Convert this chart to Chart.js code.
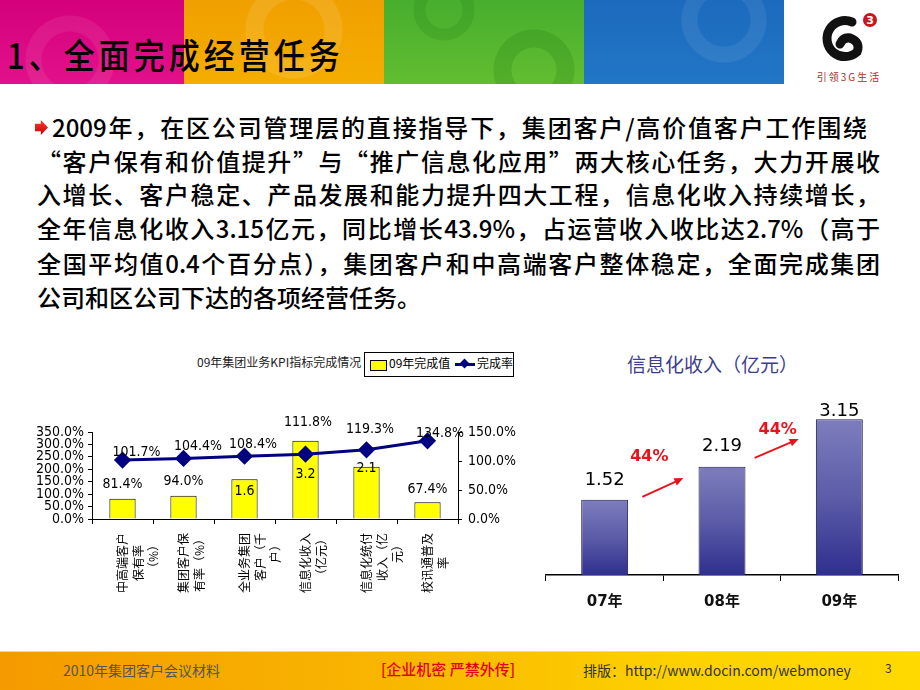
<!DOCTYPE html>
<html><head><meta charset="utf-8">
<script src="https://cdn.jsdelivr.net/npm/chart.js@4.4.1/dist/chart.umd.min.js"></script>
<style>
body{margin:0;background:#fff;}
#slide{position:relative;width:920px;height:690px;overflow:hidden;background:#fff;font-family:"Noto Sans CJK SC",sans-serif;}
.abs{position:absolute;}
.blk{position:absolute;top:0;height:84px;}
.line{position:absolute;font-size:24px;line-height:30px;height:30px;white-space:nowrap;color:#000;font-weight:500;}
.just{text-align:justify;text-align-last:justify;}
</style></head><body>
<div id="slide">
  <!-- header banner -->
  <div class="blk" style="left:0;width:184px;background:radial-gradient(circle at 70px 60px, transparent 28px, rgba(255,255,255,0.07) 29px, rgba(255,255,255,0.07) 44px, transparent 45px),linear-gradient(#d4007c,#e2118a);"></div>
  <div class="blk" style="left:184px;width:200px;background:radial-gradient(circle at 110px 30px, transparent 30px, rgba(255,255,255,0.10) 31px, rgba(255,255,255,0.10) 48px, transparent 49px),linear-gradient(#f0a000,#f5ad00);"></div>
  <div class="blk" style="left:384px;width:200px;background:radial-gradient(circle at 150px 70px, transparent 22px, rgba(0,90,0,0.15) 23px, rgba(0,90,0,0.15) 40px, transparent 41px),radial-gradient(circle at 60px 10px, transparent 18px, rgba(0,90,0,0.12) 19px, rgba(0,90,0,0.12) 30px, transparent 31px),linear-gradient(#47ae2e,#62bd30);"></div>
  <div class="blk" style="left:584px;width:200px;background:radial-gradient(circle at 140px 20px, transparent 26px, rgba(255,255,255,0.07) 27px, rgba(255,255,255,0.07) 42px, transparent 43px),linear-gradient(#1c6abd,#2276c6);"></div>
  <div class="abs" style="left:7px;top:36px;font-size:31px;line-height:36px;letter-spacing:4px;color:#000;white-space:nowrap;transform:scaleY(1.12);transform-origin:left center;font-weight:500;">1、全面完成经营任务</div>
  <svg class="abs" style="left:800px;top:0;" width="120" height="95" viewBox="0 0 120 95">
    <path d="M 52 22 A 18 18 0 1 0 57 52 Q 61 42 50 38 Q 43 37 40 44" stroke="#111" stroke-width="9" fill="none" stroke-linecap="round"/>
    <circle cx="70" cy="20" r="7" fill="#c8161d"/>
    <text x="70" y="24" font-size="11" font-weight="bold" fill="#fff" text-anchor="middle" font-family="DejaVu Sans">3</text>
    <text x="49" y="81" font-size="10" fill="#a8322d" text-anchor="middle" font-family="Noto Sans CJK SC" letter-spacing="2">引领3G生活</text>
  </svg>

  <!-- body text -->
  <div class="abs" style="left:35px;top:120px;width:13px;height:15px;background:linear-gradient(#ff3b2f,#c90000);clip-path:polygon(0 25%,45% 25%,45% 0,100% 50%,45% 100%,45% 75%,0 75%);"></div>
  <div class="line just" style="left:52px;top:112px;width:815px;">2009年，在区公司管理层的直接指导下，集团客户/高价值客户工作围绕</div>
  <div class="line just" style="left:37px;top:146px;width:843px;">“客户保有和价值提升”与“推广信息化应用”两大核心任务，大力开展收</div>
  <div class="line just" style="left:37px;top:179px;width:843px;">入增长、客户稳定、产品发展和能力提升四大工程，信息化收入持续增长，</div>
  <div class="line just" style="left:37px;top:213px;width:843px;">全年信息化收入3.15亿元，同比增长43.9%，占运营收入收比达2.7%（高于</div>
  <div class="line just" style="left:37px;top:248px;width:843px;">全国平均值0.4个百分点），集团客户和中高端客户整体稳定，全面完成集团</div>
  <div class="line" style="left:37px;top:282px;">公司和区公司下达的各项经营任务。</div>

  <!-- left chart title & legend -->
  <div class="abs" style="left:197px;top:354px;font-size:12px;line-height:16px;color:#222;white-space:nowrap;">09年集团业务KPI指标完成情况</div>
  <div class="abs" style="left:364px;top:352px;width:148px;height:23px;border:1px solid #000;background:#fff;"></div>
  <div class="abs" style="left:370px;top:360px;width:15px;height:9px;border:1px solid #000;background:#ffff00;"></div>
  <div class="abs" style="left:389px;top:355px;font-size:12px;line-height:16px;color:#000;white-space:nowrap;">09年完成值</div>
  <div class="abs" style="left:455px;top:363px;width:20px;height:3px;background:#000080;"></div>
  <div class="abs" style="left:461px;top:360px;width:7px;height:7px;background:#000080;transform:rotate(45deg);"></div>
  <div class="abs" style="left:477px;top:355px;font-size:12px;line-height:16px;color:#000;white-space:nowrap;">完成率</div>

  <canvas id="kpi" class="abs" style="left:0;top:400px;" width="540" height="220"></canvas>

  <!-- right chart -->
  <div class="abs" style="left:627px;top:351px;font-size:19px;line-height:26px;color:#3d3d8f;white-space:nowrap;">信息化收入（亿元）</div>
  <canvas id="inc" class="abs" style="left:540px;top:380px;" width="380" height="240"></canvas>

  <!-- footer -->
  <div class="abs" style="left:0;top:651px;width:920px;height:39px;border-top:1px solid #f6d88a;background:linear-gradient(to right,#f59a00,#f9b800 45%,#fdd200 75%,#ffd900);"></div>
  <div class="abs" style="left:63px;top:660px;font-size:14px;line-height:20px;color:#555;white-space:nowrap;">2010年集团客户会议材料</div>
  <div class="abs" style="left:381px;top:659px;font-size:15px;line-height:20px;color:#e2001a;white-space:nowrap;font-weight:500;">[企业机密 严禁外传]</div>
  <div class="abs" style="left:583px;top:660px;font-size:14px;line-height:20px;color:#333;white-space:nowrap;">排版：http://www.docin.com/webmoney</div>
  <div class="abs" style="left:885px;top:658px;font-size:12px;line-height:20px;color:#333;">3</div>
</div>
<script>
// ---------- Left chart data ----------
const kpiCategories = ['中高端客户保有率（%）','集团客户保有率（%）','全业务集团客户（千户）','信息化收入（亿元）','信息化统付收入（亿元）','校讯通普及率'];
const kpiTickLines = [
  ['中高端客户','保有率　','（%）　'],
  ['集团客户保','有率（%）'],
  ['全业务集团','客户（千','户）　'],
  ['信息化收入','（亿元）'],
  ['信息化统付','收入（亿','元）　'],
  ['校讯通普及','率　　']
];
const kpiValues = [0.814, 0.94, 1.6, 3.15, 2.1, 0.674];      // 09年完成值
const kpiLabels = ['81.4%','94.0%','1.6','3.2','2.1','67.4%'];
const rateValues = [1.017, 1.044, 1.084, 1.118, 1.193, 1.348]; // 完成率
const leftAxisTicks = [0, 0.5, 1, 1.5, 2, 2.5, 3, 3.5];
const rightAxisTicks = [0, 0.5, 1, 1.5];

// ---------- Right chart data ----------
const years = ['07年','08年','09年'];
const incomeValues = [1.52, 2.19, 3.15];
const growthLabels = ['44%','44%'];

const narrow = '"Liberation Sans Narrow","DejaVu Sans Condensed","Arial Narrow",sans-serif';
const pct = v => (v*100).toFixed(1) + '%';

// label placement offsets (style only)
const barDy = [-14,-14,12,34,1.5,-13];
const lineDx = [14,14.5,8.5,2.5,3.5,12.5];
const lineDy = [-8,-12,-12,-31.5,-20,-7.5];

const kpiLabelPlugin = {
  id:'kpiLabels',
  afterDatasetsDraw(chart){
    const ctx = chart.ctx;
    ctx.save();
    ctx.font = '14px ' + narrow;
    ctx.fillStyle = '#000';
    ctx.textAlign = 'center';
    ctx.textBaseline = 'middle';
    chart.getDatasetMeta(1).data.forEach((el,i)=>{
      ctx.fillText(kpiLabels[i], el.x, el.y + barDy[i]);
    });
    chart.getDatasetMeta(0).data.forEach((el,i)=>{
      ctx.fillText(pct(rateValues[i]), el.x + lineDx[i], el.y + lineDy[i]);
    });
    ctx.restore();
  }
};

new Chart(document.getElementById('kpi'), {
  data: {
    labels: kpiTickLines,
    datasets: [
      {type:'line', label:'完成率', data: rateValues, yAxisID:'y1', order:0,
       borderColor:'#000080', borderWidth:3, pointStyle:'rectRot', pointRadius:6.5,
       pointBackgroundColor:'#000080', pointBorderColor:'#000080', tension:0},
      {type:'bar', label:'09年完成值', data: kpiValues, yAxisID:'y', order:1,
       backgroundColor:'#ffff00', borderColor:'#000', borderWidth:1,
       barPercentage:0.43, categoryPercentage:1}
    ]
  },
  options: {
    responsive:false, animation:false, devicePixelRatio:1,
    layout:{padding:{top:32,left:0,right:0,bottom:0}},
    plugins:{legend:{display:false}, tooltip:{enabled:false}},
    scales:{
      x:{
        offset:true,
        grid:{display:true, drawOnChartArea:false, drawTicks:true, tickLength:5, color:'#000', offset:true},
        border:{display:true, color:'#000', width:1},
        ticks:{autoSkip:false, minRotation:90, maxRotation:90, padding:9, color:'#000',
               font:{family:'"Noto Sans CJK SC",sans-serif', size:12, lineHeight:1.3}},
        afterFit(s){ s.height = 101; }
      },
      y:{
        position:'left', min:0, max:3.5,
        afterBuildTicks(s){ s.ticks = leftAxisTicks.map(v=>({value:v})); },
        grid:{drawOnChartArea:false, tickLength:4, color:'#000'},
        border:{display:true, color:'#000', width:1},
        ticks:{autoSkip:false, padding:4, color:'#000', font:{family:narrow, size:14}, callback:v=>pct(v)},
        afterFit(s){ s.width = 92; }
      },
      y1:{
        position:'right', min:0, max:1.5,
        afterBuildTicks(s){ s.ticks = rightAxisTicks.map(v=>({value:v})); },
        grid:{drawOnChartArea:false, tickLength:4, color:'#000'},
        border:{display:true, color:'#000', width:1},
        ticks:{autoSkip:false, padding:6, color:'#000', font:{family:narrow, size:14}, callback:v=>pct(v)},
        afterFit(s){ s.width = 82; }
      }
    }
  },
  plugins:[kpiLabelPlugin]
});

// ---------- right chart ----------
const valDy = [-20,-20,-8];
const incLabelPlugin = {
  id:'incLabels',
  afterDatasetsDraw(chart){
    const ctx = chart.ctx, x = chart.scales.x, y = chart.scales.y;
    ctx.save();
    ctx.font = '18px "DejaVu Sans",sans-serif';
    ctx.fillStyle = '#000';
    ctx.textAlign = 'center';
    ctx.textBaseline = 'middle';
    chart.getDatasetMeta(0).data.forEach((el,i)=>{
      ctx.fillText(incomeValues[i].toFixed(2), el.x, el.y + valDy[i]);
    });
    // growth arrows between bars
    const arrows = [
      {dx0:-21, v0:1.58, dx1:20, v1:1.96, tx:-14, tv:2.39},
      {dx0:-26, v0:2.37, dx1:18, v1:2.75, tx:-3, tv:2.94}
    ];
    ctx.strokeStyle = '#e8141c'; ctx.fillStyle = '#e8141c'; ctx.lineWidth = 2;
    arrows.forEach((a,i)=>{
      const mid = (x.getPixelForValue(i) + x.getPixelForValue(i+1))/2;
      const x0 = mid + a.dx0, y0 = y.getPixelForValue(a.v0);
      const x1 = mid + a.dx1, y1 = y.getPixelForValue(a.v1);
      const ang = Math.atan2(y1-y0, x1-x0);
      ctx.beginPath(); ctx.moveTo(x0,y0); ctx.lineTo(x1 - 6*Math.cos(ang), y1 - 6*Math.sin(ang)); ctx.stroke();
      ctx.beginPath();
      ctx.moveTo(x1,y1);
      ctx.lineTo(x1 - 9*Math.cos(ang) + 4*Math.sin(ang), y1 - 9*Math.sin(ang) - 4*Math.cos(ang));
      ctx.lineTo(x1 - 9*Math.cos(ang) - 4*Math.sin(ang), y1 - 9*Math.sin(ang) + 4*Math.cos(ang));
      ctx.closePath(); ctx.fill();
      ctx.font = 'bold 16px "DejaVu Sans",sans-serif';
      ctx.fillText(growthLabels[i], mid + a.tx, y.getPixelForValue(a.tv));
    });
    ctx.restore();
  }
};

new Chart(document.getElementById('inc'), {
  type:'bar',
  data:{
    labels: years,
    datasets:[{
      label:'信息化收入（亿元）',
      data: incomeValues,
      borderColor:'#1b1b55', borderWidth:1,
      barPercentage:0.4, categoryPercentage:1,
      backgroundColor(c){
        const ch = c.chart; const ys = ch.scales && ch.scales.y;
        if(!ch.chartArea || !ys || c.raw === undefined) return '#5a5aa8';
        const top = ys.getPixelForValue(c.raw), bot = ys.getPixelForValue(0);
        const g = ch.ctx.createLinearGradient(0, top, 0, bot);
        g.addColorStop(0,'#7d7dbd'); g.addColorStop(0.5,'#5c5ca8'); g.addColorStop(1,'#2f2f8f');
        return g;
      }
    }]
  },
  options:{
    responsive:false, animation:false, devicePixelRatio:1,
    layout:{padding:{top:22,left:6,right:22,bottom:0}},
    plugins:{legend:{display:false}, tooltip:{enabled:false}},
    scales:{
      x:{
        offset:true,
        grid:{display:true, drawOnChartArea:false, drawTicks:true, tickLength:6, color:'#000', offset:true},
        border:{display:true, color:'#000', width:1.5},
        ticks:{color:'#111', padding:12, font:{family:'"DejaVu Sans","Noto Sans CJK SC",sans-serif', size:15, weight:'bold'}},
        afterFit(s){ s.height = 45; }
      },
      y:{display:false, min:0, max:3.5}
    }
  },
  plugins:[incLabelPlugin]
});
</script>
</body></html>
